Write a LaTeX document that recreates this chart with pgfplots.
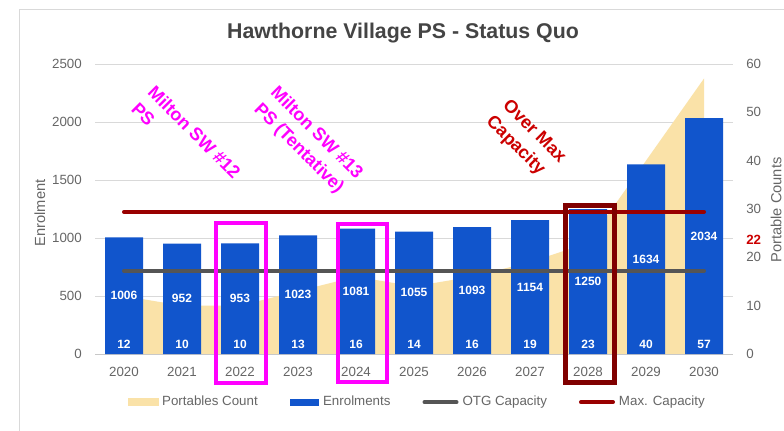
\documentclass[border=0pt]{standalone}
\usepackage{pgfplots}
\pgfplotsset{compat=1.18}
\usepackage{pgfplotstable}
\usepackage{fontspec}
\setmainfont{Liberation Sans}
\definecolor{barblue}{RGB}{17,85,204}
\definecolor{areay}{RGB}{250,226,168}
\definecolor{otg}{RGB}{85,85,85}
\definecolor{maxc}{RGB}{153,0,0}
\definecolor{ticktxt}{RGB}{102,102,102}
\definecolor{titletxt}{RGB}{68,68,68}
\definecolor{gridc}{RGB}{217,217,217}
\definecolor{annred}{RGB}{204,0,0}
\definecolor{boxred}{RGB}{128,0,0}
\definecolor{mag}{RGB}{255,0,255}

\pgfplotstableread{
x year enrol port
0 2020 1006 12
1 2021 952 10
2 2022 953 10
3 2023 1023 13
4 2024 1081 16
5 2025 1055 14
6 2026 1093 16
7 2027 1154 19
8 2028 1250 23
9 2029 1634 40
10 2030 2034 57
}\datatable

\newcommand{\pp}[2]{({#1*0.75pt},{(430-#2)*0.75pt})}

\begin{document}
\begin{tikzpicture}
\path[use as bounding box] (0,0) rectangle (588pt,322.5pt);
\fill[white] (0,0) rectangle (588pt,322.5pt);
\draw[gridc, line width=0.75pt] \pp{19.5}{9} -- \pp{800}{9};
\draw[gridc, line width=0.75pt] \pp{19.5}{9} -- \pp{19.5}{440};

% right axis: portables (area)
\begin{axis}[
  at={(71.25pt,57pt)}, anchor=south west,
  width=478.5pt, height=217.5pt, scale only axis,
  xmin=-0.5, xmax=10.5, ymin=0, ymax=60,
  axis x line=none,
  axis y line*=right,
  y axis line style={draw=none},
  major tick length=0pt,
  ytick={0,10,20,30,40,50,60},
  extra y ticks={0,12,24,36,48,60},
  extra y tick labels={},
  extra y tick style={grid=major, major grid style={gridc, line width=0.75pt}},
  yticklabel style={font=\fontsize{10}{12}\selectfont, text=ticktxt, xshift=6.4pt},
  /pgf/number format/assume math mode=true,
  /pgf/number format/1000 sep={},
]
\addplot[fill=areay, draw=none] table[x=x, y=port]{\datatable} \closedcycle;
\end{axis}

% left axis: enrolment
\begin{axis}[
  at={(71.25pt,57pt)}, anchor=south west,
  width=478.5pt, height=217.5pt, scale only axis,
  xmin=-0.5, xmax=10.5, ymin=0, ymax=2500,
  axis y line*=left, axis x line*=bottom,
  y axis line style={draw=none},
  x axis line style={-, draw={rgb,255:red,200;green,200;blue,200}, line width=0.75pt},
  major tick length=0pt,
  xtick={0,1,2,3,4,5,6,7,8,9,10},
  xticklabels={2020,2021,2022,2023,2024,2025,2026,2027,2028,2029,2030},
  ytick={0,500,1000,1500,2000,2500},
  xticklabel style={font=\fontsize{10}{12}\selectfont, text=ticktxt, yshift=-6.5pt},
  yticklabel style={font=\fontsize{10}{12}\selectfont, text=ticktxt, xshift=-6.4pt},
  /pgf/number format/assume math mode=true,
  /pgf/number format/1000 sep={},
  clip=false,
  legend columns=4,
  legend style={at={(0.506,-0.166)}, anchor=center, draw=none, fill=none,
    font=\fontsize{10}{12}\selectfont, text=ticktxt,
    /tikz/every even column/.append style={column sep=22pt},
    /tikz/every odd column/.append style={column sep=1pt}},
]
\addlegendimage{legend image code/.code={\fill[areay] (0pt,-2.6pt) rectangle (22pt,2.6pt);}}
\addlegendentry{Portables Count}
\addplot[ybar, bar width=28.5pt, fill=barblue, draw=none,
  legend image code/.code={\fill[barblue] (0pt,-2.6pt) rectangle (22pt,2.6pt);}]
  table[x=x, y=enrol]{\datatable};
\addlegendentry{Enrolments}
\addplot[otg, line width=3pt, line cap=round,
  legend image code/.code={\draw[otg, line width=3pt] (0pt,0pt) -- (24pt,0pt);}]
  coordinates {(0,717) (10,717)};
\addlegendentry{OTG Capacity}
\addplot[maxc, line width=3pt, line cap=round,
  legend image code/.code={\draw[maxc, line width=3pt] (0pt,0pt) -- (24pt,0pt);}]
  coordinates {(0,1225) (10,1225)};
\addlegendentry{Max. Capacity}
% value labels
\addplot[forget plot, draw=none, mark=none, nodes near coords, point meta=explicit symbolic,
  nodes near coords style={font=\bfseries\fontsize{9}{10}\selectfont, text=white, anchor=center}]
  table[x=x, y expr=\thisrow{enrol}/2, meta=enrol]{\datatable};
\addplot[forget plot, draw=none, mark=none, nodes near coords, point meta=explicit symbolic,
  nodes near coords style={font=\bfseries\fontsize{9}{10}\selectfont, text=white, anchor=center, yshift=7pt}]
  table[x=x, y expr=0, meta=port]{\datatable};
\end{axis}

% highlight boxes
\draw[mag, line width=3pt] \pp{215.5}{222.5} rectangle \pp{265.5}{382.5};
\draw[mag, line width=3pt] \pp{337.5}{223.5} rectangle \pp{386.5}{381.5};
\draw[boxred, line width=3.5pt] \pp{565.5}{205.5} rectangle \pp{614.5}{382.5};

% annotations
\node[rotate=-45, anchor=north west, inner sep=0pt, align=left, text=mag,
  font=\bfseries\fontsize{13.5}{17.5}\selectfont] at \pp{156}{84} {Milton SW \#12\\PS};
\node[rotate=-45, anchor=north west, inner sep=0pt, align=left, text=mag,
  font=\bfseries\fontsize{13.5}{17.5}\selectfont] at \pp{279}{84} {Milton SW \#13\\PS (Tentative)};
\node[rotate=-45, anchor=north west, inner sep=0pt, align=left, text=annred,
  font=\bfseries\fontsize{13.5}{17.5}\selectfont] at \pp{511}{97} {Over Max\\Capacity};

% titles and labels
\node[font=\bfseries\fontsize{16}{19}\selectfont, text=titletxt] at \pp{403}{33} {Hawthorne Village PS - Status Quo};
\node[rotate=90, font=\fontsize{11}{13}\selectfont, text=ticktxt] at \pp{40}{213} {Enrolment};
\node[rotate=90, font=\fontsize{11}{13}\selectfont, text=ticktxt] at \pp{776}{210} {Portable Counts};
\node[anchor=west, inner sep=0pt, font=\bfseries\fontsize{10}{12}\selectfont, text=annred] at \pp{746}{240} {22};
\end{tikzpicture}
\end{document}
